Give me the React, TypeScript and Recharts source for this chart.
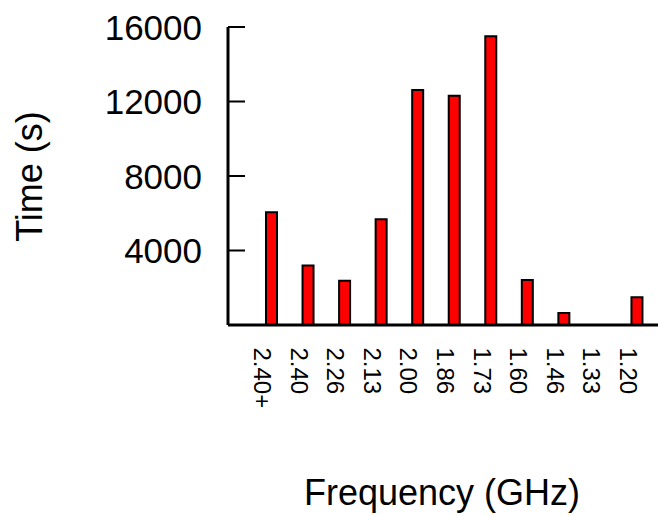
import React from 'react';
import { BarChart, Bar, XAxis, YAxis } from 'recharts';

// frequency buckets (GHz) and time spent in each
const frequencies = ['2.40+', '2.40', '2.26', '2.13', '2.00', '1.86', '1.73', '1.60', '1.46', '1.33', '1.20'];
const times = [6050, 3200, 2380, 5680, 12620, 12310, 15500, 2420, 640, 0, 1490];
const yTicks = [4000, 8000, 12000, 16000];

const data = frequencies.map((f, i) => ({ freq: f, time: times[i] }));

const FONT = '"Liberation Sans", Arial, Helvetica, sans-serif';

const YTick = (props: any) => {
  const { x, y, payload } = props;
  return (
    <g>
      <line x1={x} y1={y} x2={x + 17} y2={y} stroke="#000" strokeWidth={2} />
      <text x={x - 26} y={y} dy="0.36em" textAnchor="end" fontSize={35} fontFamily={FONT} fill="#000">
        {payload.value}
      </text>
    </g>
  );
};

const XTick = (props: any) => {
  const { x, y, payload } = props;
  return (
    <text
      transform={`translate(${x - 17}, ${y + 22.5}) rotate(90)`}
      textAnchor="start"
      fontSize={24}
      fontFamily={FONT}
      fill="#000"
    >
      {payload.value}
    </text>
  );
};

const App: React.FC = () => {
  return (
    <div style={{ position: 'absolute', left: 0, top: 0, width: 658, height: 516, background: '#fff' }}>
      <BarChart width={658} height={516} data={data} margin={{ top: 27, right: 0, left: 0, bottom: 0 }}>
        <XAxis
          dataKey="freq"
          height={191}
          interval={0}
          padding={{ left: 25, right: 3 }}
          tickLine={false}
          tickSize={0}
          tickMargin={0}
          tick={<XTick />}
          axisLine={{ stroke: '#000', strokeWidth: 3 }}
          label={{
            content: () => (
              <text x={442} y={505} textAnchor="middle" fontSize={36} fontFamily={FONT} fill="#000">
                Frequency (GHz)
              </text>
            ),
          }}
        />
        <YAxis
          width={228}
          domain={[0, 16000]}
          ticks={yTicks}
          tickLine={false}
          tickSize={0}
          tickMargin={0}
          tick={<YTick />}
          axisLine={{ stroke: '#000', strokeWidth: 3 }}
          label={{
            content: () => (
              <text
                transform="translate(42, 176.5) rotate(-90)"
                textAnchor="middle"
                fontSize={36}
                fontFamily={FONT}
                fill="#000"
              >
                Time (s)
              </text>
            ),
          }}
        />
        <Bar dataKey="time" fill="#ff0000" stroke="#000" strokeWidth={2} barSize={11} isAnimationActive={false} />
      </BarChart>
    </div>
  );
};

export default App;
